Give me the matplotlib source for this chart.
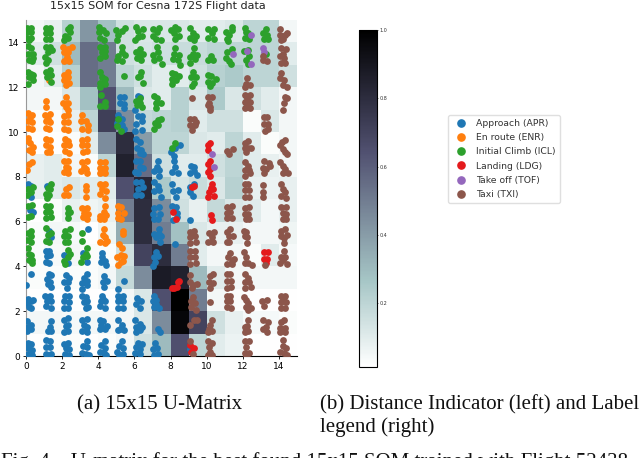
import numpy as np
import matplotlib
matplotlib.use("Agg")
import matplotlib.pyplot as plt
from matplotlib.lines import Line2D
from matplotlib.cm import ScalarMappable
from matplotlib.colors import Normalize

# ====== U-matrix, listed from the top row (y=14) down to y=0 ======
u_matrix = [
    [.05, .08, .22, .42, .28, .15, .12, .12, .12, .10, .10, .12, .20, .20, .05],
    [.10, .15, .30, .55, .50, .15, .13, .15, .17, .17, .20, .20, .20, .20, .10],
    [.05, .10, .22, .55, .50, .20, .15, .10, .10, .15, .22, .25, .20, .20, .15],
    [.05, .05, .12, .28, .65, .30, .12, .10, .22, .12, .25, .12, .15, .10, .05],
    [.03, .03, .08, .20, .72, .45, .18, .20, .22, .10, .15, .15, .03, .12, .05],
    [.02, .02, .03, .10, .45, .80, .40, .20, .20, .12, .10, .20, .10, .03, .05],
    [.08, .10, .05, .03, .20, .85, .55, .15, .10, .10, .15, .20, .10, .08, .05],
    [.08, .10, .12, .10, .10, .65, .82, .25, .13, .17, .12, .22, .08, .07, .08],
    [.02, .03, .08, .06, .08, .50, .80, .45, .15, .08, .18, .12, .10, .05, .08],
    [.03, .05, .04, .02, .06, .35, .80, .50, .28, .12, .08, .08, .05, .05, .06],
    [.03, .04, .05, .03, .03, .15, .70, .80, .50, .10, .05, .05, .03, .10, .04],
    [.03, .03, .03, .03, .05, .18, .45, .88, .85, .30, .10, .05, .05, .05, .05],
    [.02, .02, .02, .02, .02, .05, .12, .65, 1.0, .50, .05, .03, .02, .02, .02],
    [.05, .05, .04, .05, .05, .05, .12, .45, .97, .70, .15, .08, .04, .04, .03],
    [.02, .03, .03, .02, .03, .05, .15, .30, .65, .20, .10, .07, .02, .02, .02],
]

class_names = ["Approach (APR)", "En route (ENR)", "Initial Climb (ICL)",
               "Landing (LDG)", "Take off (TOF)", "Taxi (TXI)"]
class_colors = ["#1f77b4", "#ff7f0e", "#2ca02c", "#e41a1c", "#9467bd", "#8c564b"]

apr_pts = [
    (6.3,11.55),(6.05,11.0),(6.2,11.6),(5.2,11.55),(5.4,11.55),(5.2,11.3),(5.4,11.25),(5.4,11.05),
    (5.1,10.75),(5.3,10.6),(5.05,10.4),(5.3,10.3),(5.45,10.15),(5.2,10.55),
    (6.2,10.7),(6.4,10.7),(6.1,10.35),(6.4,10.5),(6.4,10.1),(6.05,10.05),
    (6.1,9.7),(6.3,9.55),(6.15,9.3),(6.35,9.2),(6.3,9.05),(6.45,9.0),
    (8.25,9.3),(8.5,9.4),(8.05,9.1),(8.2,8.95),
    (6.1,8.7),(6.3,8.7),(6.3,8.45),(6.05,8.2),(6.2,8.15),(6.45,8.4),
    (7.3,8.7),(7.25,8.45),(7.1,8.25),(7.35,8.3),(7.35,8.05),
    (8.2,8.7),(8.25,8.45),(8.1,8.2),(8.4,8.15),
    (9.15,8.5),(9.3,8.45),(9.1,8.15),(9.3,8.25),(9.45,8.1),
    (.1,7.7),(.3,7.6),(.25,7.1),(1.15,7.6),
    (6.1,7.75),(6.35,7.75),(6.2,7.45),(6.1,7.2),(6.35,7.2),(6.45,7.55),
    (7.1,7.75),(7.3,7.6),(7.35,7.4),(7.1,7.35),(7.45,7.1),
    (8.1,7.7),(8.4,7.4),(8.15,7.35),(8.3,7.1),
    (9.1,7.55),(9.1,7.3),(9.25,7.15),(9.3,7.7),
    (.2,6.5),(.4,6.45),
    (7.1,6.6),(7.35,6.65),(7.05,6.35),(7.4,6.35),(7.1,6.1),(7.3,6.1),
    (8.1,6.7),(8.3,6.65),(8.35,6.4),(8.35,6.2),(8.15,6.05),(9.05,6.05),
    (1.3,5.6),(1.4,5.3),(3.45,5.65),
    (7.35,5.65),(7.1,5.45),(7.35,5.45),(7.45,5.35),(7.2,5.3),(7.4,5.1),(8.25,5.0),
    (1.1,4.7),(1.3,4.7),(1.15,4.45),(1.35,4.5),(1.1,4.2),(1.3,4.15),
    (2.1,4.5),(2.35,4.15),(3.15,4.6),(3.4,4.2),
    (4.2,4.6),(4.2,4.4),(4.4,4.25),(4.15,4.2),(4.45,4.05),
    (7.2,4.65),(7.1,4.4),(7.3,4.45),(7.15,4.2),(7.05,4.0),
    (.25,3.65),(.0,3.15),
    (1.25,3.65),(1.4,3.6),(1.15,3.45),(1.35,3.3),(1.4,3.1),(1.2,3.2),
    (2.2,3.6),(2.4,3.5),(2.1,3.3),(2.35,3.3),(2.25,3.05),
    (3.4,3.65),(3.2,3.5),(3.35,3.35),(3.1,3.25),(3.35,3.15),(3.1,3.0),
    (4.3,3.55),(4.5,3.35),(4.25,3.3),(4.3,3.1),(5.4,3.35),(5.1,3.0),
    (.1,2.55),(.3,2.45),(.05,2.35),(.3,2.15),(.15,2.2),(.4,2.5),
    (1.05,2.7),(1.35,2.7),(1.15,2.45),(1.4,2.45),(1.1,2.25),(1.4,2.15),
    (2.15,2.7),(2.4,2.7),(2.1,2.45),(2.4,2.4),(2.1,2.15),(2.35,2.15),
    (3.1,2.7),(3.3,2.65),(3.2,2.4),(3.4,2.45),(3.3,2.15),(3.45,2.2),
    (4.2,2.7),(4.15,2.45),(4.4,2.45),(4.1,2.25),(4.4,2.15),(4.25,2.55),
    (5.1,2.7),(5.35,2.7),(5.1,2.45),(5.35,2.45),(5.1,2.15),(5.35,2.15),
    (6.15,2.6),(6.1,2.3),(6.3,2.15),(6.35,2.45),
    (7.1,2.7),(7.05,2.45),(7.2,2.3),(7.35,2.15),(7.1,2.2),(7.2,2.5),
    (.05,1.55),(.3,1.4),(.1,1.3),(.3,1.2),(.05,1.1),
    (1.4,1.55),(1.35,1.3),(1.2,1.1),(1.4,1.1),
    (2.3,1.7),(2.1,1.6),(2.35,1.4),(2.2,1.35),(2.35,1.1),(2.1,1.05),
    (3.1,1.6),(3.4,1.65),(3.2,1.4),(3.4,1.3),(3.1,1.1),(3.35,1.05),
    (4.1,1.6),(4.25,1.55),(4.15,1.4),(4.4,1.2),(4.1,1.2),(4.5,1.35),
    (5.1,1.6),(5.3,1.4),(5.2,1.2),(5.45,1.15),(5.1,1.15),
    (6.05,1.6),(6.3,1.45),(6.1,1.3),(6.3,1.15),(6.1,1.05),(6.4,1.3),
    (7.3,1.2),(7.4,1.05),
    (.1,.6),(.3,.55),(.1,.35),(.35,.25),(.1,.1),(.35,.05),
    (1.1,.7),(1.35,.65),(1.1,.4),(1.35,.4),(1.1,.1),(1.4,.1),
    (2.1,.55),(2.35,.6),(2.2,.35),(2.4,.3),(2.15,.1),(2.4,.05),
    (3.4,.65),(3.15,.45),(3.4,.4),(3.1,.15),(3.3,.1),(3.5,.05),
    (4.35,.65),(4.15,.5),(4.4,.35),(4.1,.2),(4.3,.15),(4.45,.05),
    (5.3,.65),(5.15,.45),(5.35,.35),(5.05,.2),(5.35,.1),(5.15,.05),
    (6.2,.6),(6.4,.55),(6.1,.4),(6.3,.3),(6.05,.15),(6.3,.1),
    (7.15,.6),(7.05,.3),(7.25,.35),(7.1,.05),(7.3,.1),(9.1,.3),
]

enr_pts = [
    (2.1,13.15),(2.4,13.15),(2.25,13.35),(2.1,13.55),(2.35,13.55),(2.55,13.8),(2.3,13.7),(2.05,13.8),
    (1.25,12.3),(2.1,12.55),(2.3,12.7),(2.1,12.3),(2.35,12.45),(2.2,12.1),(2.4,12.2),
    (1.1,11.4),(1.1,11.1),(2.2,11.55),(2.3,11.3),(2.05,11.3),(2.2,11.1),(2.35,11.0),
    (.1,10.85),(.35,10.75),(.1,10.5),(.35,10.45),(.1,10.2),(.35,10.15),(.2,10.65),
    (1.05,10.75),(1.35,10.8),(1.1,10.5),(1.35,10.45),(1.1,10.2),(1.3,10.15),(1.2,10.6),
    (2.1,10.7),(2.35,10.75),(2.1,10.45),(2.35,10.45),(2.1,10.15),(2.35,10.1),
    (3.1,10.75),(3.05,10.5),(3.3,10.5),(3.45,10.3),(3.1,10.15),(3.45,10.1),
    (.1,9.75),(.2,9.5),(.4,9.35),(.15,9.2),(.35,9.1),(.1,9.6),
    (1.1,9.7),(1.35,9.65),(1.1,9.4),(1.35,9.35),(1.15,9.1),(1.35,9.1),
    (2.15,9.7),(2.35,9.6),(2.1,9.4),(2.4,9.4),(2.15,9.15),(2.4,9.05),
    (3.1,9.65),(3.4,9.7),(3.1,9.4),(3.35,9.4),(3.15,9.1),(3.4,9.15),
    (.35,8.65),(.15,8.55),(.05,8.3),
    (2.1,8.7),(2.35,8.7),(2.2,8.45),(2.1,8.2),(2.35,8.15),(2.35,8.4),
    (3.1,8.65),(3.4,8.7),(3.2,8.45),(3.05,8.25),(3.4,8.15),(3.3,8.35),
    (4.1,8.65),(4.35,8.65),(4.1,8.4),(4.35,8.4),(4.1,8.15),(4.35,8.15),
    (2.4,7.55),(2.2,7.45),(2.1,7.2),(2.35,7.2),(3.3,7.6),(3.3,7.4),(3.3,7.1),
    (4.1,7.7),(4.35,7.7),(4.2,7.45),(4.45,7.35),(4.1,7.25),(4.35,7.05),
    (3.1,6.6),(3.35,6.6),(3.2,6.4),(3.45,6.35),(3.15,6.2),(3.4,6.1),
    (4.4,6.7),(4.3,6.45),(4.1,6.25),(4.3,6.1),(4.45,6.3),(4.1,6.1),
    (5.1,6.7),(5.25,6.65),(5.1,6.4),(5.4,6.4),(5.1,6.15),(5.25,6.1),
    (4.3,5.65),(4.25,5.4),(4.4,5.3),(4.1,5.1),(4.4,5.05),(4.5,5.15),
    (5.35,5.6),(5.35,5.45),(5.15,5.0),
    (5.3,4.8),(5.25,4.5),(5.45,4.45),(5.05,4.4),(5.25,4.2),(5.1,4.05),(5.35,4.25),
]

icl_pts = [
    (.05,14.2),(.3,14.2),(.05,14.45),(.3,14.45),(.05,14.65),(.3,14.65),(.15,14.1),
    (1.1,14.15),(1.35,14.15),(1.1,14.4),(1.35,14.4),(1.1,14.65),(1.35,14.65),
    (2.1,14.1),(2.35,14.2),(2.45,14.45),(2.3,14.6),(2.45,14.7),(2.15,14.3),
    (4.05,14.7),(4.05,14.45),(4.25,14.55),(4.45,14.4),(4.1,14.2),(4.3,14.1),
    (5.05,14.1),(5.1,14.35),(5.3,14.5),(5.5,14.65),(5.0,14.55),
    (6.05,14.1),(6.2,14.25),(6.2,14.5),(6.1,14.7),(6.45,14.6),(6.4,14.3),
    (7.05,14.6),(7.05,14.3),(7.2,14.15),(7.35,14.65),(7.45,14.1),(7.25,14.45),
    (8.05,14.55),(8.2,14.4),(8.4,14.6),(8.25,14.15),(8.45,14.3),(8.25,14.7),
    (9.1,14.65),(9.25,14.4),(9.05,14.2),(9.3,14.1),(9.4,14.3),
    (10.1,14.6),(10.3,14.4),(10.05,14.2),(10.4,14.15),(10.4,14.6),
    (11.1,14.15),(11.25,14.35),(11.4,14.55),(11.05,14.45),(11.4,14.7),(11.2,14.05),
    (12.1,14.65),(12.3,14.4),(12.1,14.2),(12.35,14.15),(12.15,14.45),
    (13.3,14.6),(13.1,14.4),(13.35,14.35),(13.15,14.15),(13.4,14.15),
    (.1,13.85),(.3,13.75),(.4,13.5),(.1,13.5),(.15,13.2),(.35,13.15),(.4,13.3),
    (1.1,13.8),(1.35,13.8),(1.2,13.55),(1.45,13.65),(1.05,13.35),(1.2,13.2),(1.1,13.1),
    (4.1,13.8),(4.35,13.8),(4.2,13.55),(4.35,13.4),(4.1,13.3),(4.4,13.6),
    (5.3,13.8),(5.3,13.55),(5.1,13.4),(5.5,13.45),(5.05,13.2),(5.3,13.15),
    (6.1,13.55),(6.3,13.7),(6.3,13.45),(6.15,13.3),(6.5,13.5),(6.35,13.2),
    (7.25,13.8),(7.3,13.55),(7.05,13.45),(7.35,13.3),(7.1,13.2),(7.5,13.05),
    (8.25,13.75),(8.2,13.5),(8.45,13.45),(8.15,13.25),(8.4,13.2),(8.5,13.0),
    (9.3,13.75),(9.25,13.5),(9.45,13.45),(9.05,13.35),(9.1,13.1),(9.35,13.25),
    (10.1,13.2),(10.25,13.4),(10.35,13.2),
    (11.4,13.7),(11.1,13.55),(11.05,13.3),(11.25,13.15),(11.35,13.05),
    (12.05,13.6),(12.3,13.65),(12.35,13.4),(12.2,13.2),(12.3,13.05),(13.3,13.5),
    (.1,12.7),(.3,12.6),(.4,12.55),(.15,12.45),(.1,12.15),(.4,12.3),
    (1.1,12.7),(1.35,12.75),(1.15,12.45),(1.4,12.55),(1.4,12.25),
    (4.1,12.7),(4.2,12.45),(4.1,12.2),(4.35,12.15),(4.4,12.35),(4.1,12.0),(5.4,12.5),
    (6.35,12.7),(6.2,12.45),(6.45,12.2),(6.3,12.5),
    (8.1,12.65),(8.25,12.6),(8.1,12.35),(8.45,12.5),(8.1,12.15),(8.3,12.3),
    (9.25,12.7),(9.15,12.45),(9.4,12.45),(9.3,12.2),(9.2,12.05),
    (10.1,12.55),(10.25,12.5),(10.1,12.25),(10.3,12.2),(10.5,12.35),(10.2,12.05),
    (4.15,11.65),(4.1,11.15),(4.4,11.15),(4.4,11.35),
    (6.1,11.4),(6.3,11.5),(6.3,11.3),(6.4,11.1),(6.15,11.2),
    (7.1,11.6),(7.25,11.5),(7.2,11.3),(7.45,11.3),(7.2,11.05),
    (5.1,10.6),(5.05,10.25),(5.25,10.05),
    (7.3,10.55),(7.45,10.6),(7.15,10.4),(7.3,10.3),(7.1,10.15),
    (8.25,9.5),(8.1,9.3),
    (.1,7.45),(.3,7.3),(.05,7.2),(.4,7.55),
    (1.2,7.5),(1.4,7.7),(1.1,7.25),(1.3,7.2),(1.15,7.05),(1.35,7.45),
    (.1,6.7),(.35,6.75),(.1,6.2),(.3,6.25),
    (1.1,6.7),(1.35,6.7),(1.1,6.45),(1.35,6.45),(1.1,6.15),(1.4,6.2),(1.2,6.55),
    (2.35,6.6),(2.3,6.4),(2.45,6.45),(2.3,6.15),
    (.3,5.6),(.1,5.5),(.3,5.35),(.05,5.2),(.25,5.1),
    (1.1,5.7),(1.2,5.4),(1.1,5.15),(1.4,5.5),(1.3,5.1),
    (2.15,5.6),(2.45,5.65),(2.1,5.35),(2.35,5.35),(2.15,5.1),(2.35,5.1),
    (3.1,5.5),(3.1,5.15),
    (.1,4.8),(.15,4.55),(.3,4.5),(.15,4.3),(.35,4.15),(.35,4.3),
    (2.3,4.75),(2.45,4.55),(2.3,4.4),(2.1,4.25),(2.15,4.1),
    (3.4,4.8),(3.3,4.55),(3.15,4.4),(3.4,4.45),(3.05,4.2),
]

ldg_pts = [
    (10.2,9.5),(10.05,9.4),(10.1,9.2),
    (10.2,8.7),(10.05,8.55),(10.2,8.35),(10.05,8.2),(10.2,8.05),
    (9.2,7.55),(9.3,7.6),
    (10.3,7.7),(10.35,7.45),(10.15,7.3),(10.05,7.1),(10.4,7.15),(10.25,7.5),
    (8.15,6.45),(8.3,6.1),(10.25,6.3),(10.3,6.05),
    (13.15,4.65),(13.4,4.65),(13.15,4.35),(13.35,4.35),(13.3,4.15),
    (8.4,3.3),(8.35,3.1),(8.2,3.05),(8.1,3.05),(8.45,3.35),
    (9.05,.5),(9.3,.35),(9.15,.2),
]

tof_pts = [
    (12.45,14.35),(11.45,13.5),(12.25,13.6),(12.45,13.05),(13.1,13.75),(13.15,13.55),
    (10.3,9.0),(10.4,8.45),
]

txi_pts = [
    (14.05,14.6),(14.05,14.35),(14.25,14.15),(14.35,14.35),(14.1,14.1),(14.45,14.4),
    (13.1,13.4),(13.35,13.15),(13.1,13.2),
    (14.1,13.75),(14.4,13.7),(14.25,13.5),(14.05,13.4),(14.3,13.3),(14.1,13.1),(14.35,13.1),
    (12.25,12.4),(12.2,12.15),(12.1,12.0),(12.4,12.1),
    (14.1,12.65),(14.05,12.4),(14.3,12.3),(14.2,12.1),(14.45,12.0),
    (9.2,11.5),
    (10.1,11.55),(10.3,11.55),(10.15,11.3),(10.05,11.2),(10.2,11.0),(10.2,11.1),
    (12.1,11.65),(12.4,11.65),(12.1,11.35),(12.4,11.35),(12.1,11.05),(12.4,11.05),(12.25,11.5),(12.25,11.2),
    (14.35,11.55),(14.45,11.5),(14.3,11.3),(14.2,11.0),
    (9.1,10.6),(9.3,10.6),(9.1,10.3),(9.35,10.3),(9.2,10.1),(9.4,10.45),
    (13.15,10.65),(13.35,10.65),(13.15,10.35),(13.4,10.35),(13.25,10.05),(13.4,10.15),
    (11.1,9.15),(11.45,9.25),(11.25,9.0),
    (12.1,9.5),(12.3,9.6),(12.1,9.3),(12.3,9.3),(12.45,9.3),(12.2,9.1),
    (14.35,9.65),(14.15,9.55),(14.05,9.4),(14.2,9.25),(14.35,9.1),(14.45,9.0),
    (12.1,8.65),(12.3,8.5),(12.1,8.3),(12.35,8.3),(12.1,8.05),(12.4,8.15),
    (13.2,8.7),(13.45,8.6),(13.1,8.4),(13.3,8.35),(13.2,8.15),(13.5,8.5),
    (14.05,8.65),(14.2,8.5),(14.35,8.35),(14.5,8.15),(14.2,8.15),
    (12.1,7.7),(12.3,7.7),(12.1,7.4),(12.35,7.4),(12.1,7.1),(12.35,7.1),
    (13.1,7.65),(13.1,7.3),(13.1,7.1),
    (14.1,7.7),(14.2,7.45),(14.35,7.3),(14.1,7.15),(14.4,7.05),
    (11.1,6.65),(11.4,6.7),(11.1,6.4),(11.3,6.45),(11.1,6.15),(11.4,6.15),
    (12.1,6.6),(12.35,6.65),(12.1,6.35),(12.3,6.35),(12.15,6.1),(12.35,6.1),
    (14.1,6.65),(14.4,6.65),(14.2,6.4),(14.4,6.35),(14.2,6.1),(14.4,6.1),
    (9.1,5.55),(9.3,5.6),(9.1,5.3),(9.35,5.35),(9.1,5.05),(9.4,5.1),
    (10.15,5.5),(10.4,5.55),(10.3,5.3),(10.1,5.1),(10.35,5.1),
    (11.1,5.55),(11.3,5.65),(11.25,5.35),(11.45,5.35),(11.1,5.1),(11.25,5.1),
    (12.05,5.6),(12.2,5.55),(12.25,5.3),(12.25,5.05),(12.1,5.35),
    (14.1,5.6),(14.35,5.65),(14.1,5.35),(14.3,5.25),(14.45,5.4),(14.3,5.05),
    (9.1,4.7),(9.35,4.7),(9.1,4.4),(9.35,4.4),(9.1,4.1),(9.4,4.15),
    (11.3,4.6),(11.2,4.4),(11.4,4.25),(11.1,4.1),(11.4,4.1),(11.5,4.35),
    (12.05,4.65),(12.15,4.4),(12.3,4.15),(12.5,4.05),(12.1,4.15),(13.25,4.05),
    (14.3,4.7),(14.1,4.4),(14.35,4.4),(14.05,4.15),(14.45,4.1),(14.25,4.3),
    (9.1,3.6),(9.05,3.3),(9.25,3.15),(9.45,3.2),(9.2,3.05),
    (10.35,3.65),(10.2,3.55),(10.15,3.3),(10.35,3.25),(10.2,3.05),
    (11.1,3.65),(11.3,3.65),(11.1,3.35),(11.35,3.35),(11.1,3.05),(11.35,3.1),
    (12.1,3.65),(12.3,3.5),(12.1,3.3),(12.35,3.3),(12.1,3.05),(12.45,3.1),
    (9.25,2.65),(9.15,2.45),(9.35,2.35),(9.15,2.2),(9.4,2.05),(10.2,2.4),
    (11.1,2.7),(11.3,2.7),(11.1,2.45),(11.3,2.45),(11.1,2.2),(11.35,2.15),
    (12.05,2.65),(12.2,2.5),(12.3,2.35),(12.15,2.2),(12.45,2.15),(12.3,2.05),
    (13.35,2.5),(13.2,2.25),(13.05,2.45),
    (14.1,2.7),(14.35,2.7),(14.1,2.4),(14.4,2.4),(14.1,2.15),(14.35,2.15),(14.25,2.55),
    (9.45,1.6),(9.05,1.4),(9.3,1.6),
    (10.3,1.6),(10.2,1.4),(10.15,1.2),(10.05,1.05),(10.3,1.1),
    (12.3,1.6),(12.1,1.3),(12.25,1.35),(12.1,1.05),(12.3,1.1),
    (13.1,1.6),(13.4,1.5),(13.3,1.3),(13.1,1.2),(13.35,1.05),
    (14.1,1.5),(14.3,1.6),(14.05,1.25),(14.35,1.25),(14.05,1.05),(14.35,1.05),
    (9.1,.65),(9.25,.1),
    (10.05,.65),(10.3,.6),(10.15,.4),(10.2,.2),(10.1,.05),(10.3,.05),
    (12.1,.65),(12.35,.65),(12.2,.4),(12.1,.15),(12.35,.15),(12.2,.05),
    (14.2,.7),(14.2,.45),(14.4,.35),(14.05,.2),(14.3,.15),(14.45,.05),
]

class_pts = [apr_pts, enr_pts, icl_pts, ldg_pts, tof_pts, txi_pts]

W, H = 640, 458
fig = plt.figure(figsize=(W / 100, H / 100), dpi=100)

# ====== U-matrix panel ======
ax = fig.add_axes([26 / W, 1 - 356 / H, 271 / W, 336 / H])
ax.pcolormesh(np.array(u_matrix)[::-1], cmap="bone_r", vmin=0.013, vmax=1.0)
for pts, color in zip(class_pts, class_colors):
    xs, ys = zip(*pts)
    ax.scatter(xs, ys, s=24, color=color, linewidths=0, zorder=3)
ax.set_xlim(0, 15)
ax.set_ylim(0, 15)
ax.set_xticks(range(0, 15, 2))
ax.set_yticks(range(0, 15, 2))
ax.tick_params(labelsize=6.5, length=2.5, width=0.6, pad=2)
ax.spines["top"].set_visible(False)
ax.spines["right"].set_visible(False)
ax.spines["left"].set_color("#999999")
ax.spines["bottom"].set_linewidth(0.8)
fig.text(158 / W, 1 - 6 / H, "15x15 SOM for Cesna 172S Flight data",
         ha="center", va="center", fontsize=8, color="#222222")

# ====== Distance indicator ======
cax = fig.add_axes([359 / W, 1 - 367 / H, 18 / W, 337 / H])
cbar = fig.colorbar(ScalarMappable(Normalize(0.013, 1.0), "bone_r"), cax=cax)
cbar.set_ticks([0.2, 0.4, 0.6, 0.8, 1.0])
cbar.ax.tick_params(labelsize=3.5, length=1, width=0.4, pad=1, labelcolor="#333333")
for side in ["left", "bottom"]:
    cax.spines[side].set_linewidth(1.0)
    cax.spines[side].set_color("#777777")
for side in ["top", "right"]:
    cax.spines[side].set_linewidth(0.3)

# ====== Label legend ======
handles = [Line2D([], [], linestyle="none", marker="o", markersize=5.2,
                  markerfacecolor=c, markeredgecolor=c) for c in class_colors]
fig.legend(handles, class_names, loc="center", bbox_to_anchor=(504 / W, 1 - 159 / H),
           fontsize=6.7, frameon=True, edgecolor="#d8d8d8", labelspacing=0.56,
           handletextpad=0.6, borderpad=0.4, labelcolor="#333333")

# ====== Captions ======
serif = "Liberation Serif"
fig.text(160 / W, 1 - 409 / H, "(a) 15x15 U-Matrix", family=serif, fontsize=15,
         ha="center", va="baseline", color="#111111")
fig.text(320 / W, 1 - 409 / H, "(b) Distance Indicator (left) and Label", family=serif,
         fontsize=15, ha="left", va="baseline", color="#111111")
fig.text(320 / W, 1 - 432 / H, "legend (right)", family=serif, fontsize=15,
         ha="left", va="baseline", color="#111111")
fig.text(1 / W, 1 - 466.5 / H, "Fig. 4.   U-matrix for the best found 15x15 SOM trained with Flight 52438",
         family=serif, fontsize=15, ha="left", va="baseline", color="#111111")

fig.savefig("out.png", dpi=100)
